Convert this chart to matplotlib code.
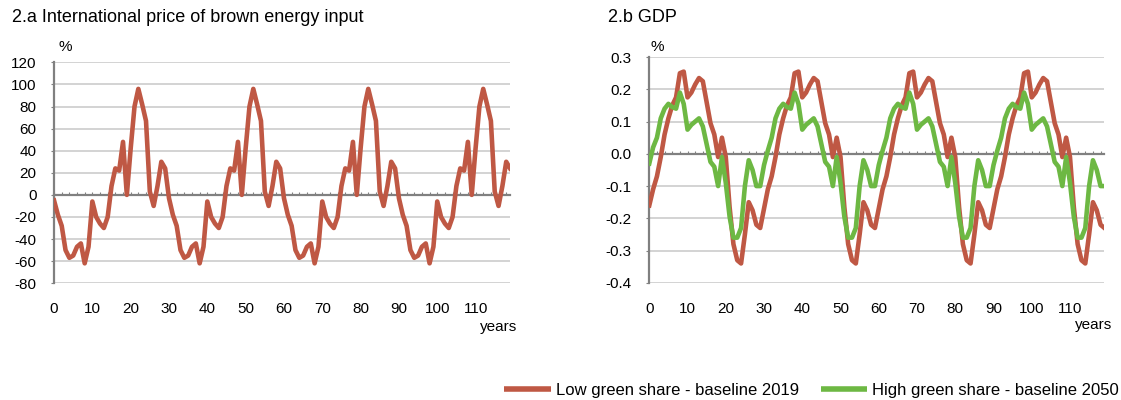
import matplotlib
matplotlib.use("Agg")
import matplotlib.pyplot as plt
from matplotlib.lines import Line2D
from matplotlib.ticker import MultipleLocator, FormatStrFormatter

plt.rcParams['font.family'] = ['Liberation Sans', 'DejaVu Sans']
plt.rcParams['axes.unicode_minus'] = False

# anos da simulacao
anos = list(range(120))

# 2.a preco internacional do insumo marrom (%)
preco = [
    -5, -18, -28, -50, -57, -55, -47, -44, -62, -47, -6, -20, -26, -30, -20,
    8, 24, 22, 48, 0, 42, 80, 96, 82, 67, 3, -10, 8, 30, 24,
    -3, -18, -28, -50, -57, -55, -47, -44, -62, -47, -6, -20, -26, -30, -20,
    8, 24, 22, 48, 0, 42, 80, 96, 82, 67, 3, -10, 8, 30, 24,
    -3, -18, -28, -50, -57, -55, -47, -44, -62, -47, -6, -20, -26, -30, -20,
    8, 24, 22, 48, 0, 42, 80, 96, 82, 67, 3, -10, 8, 30, 24,
    -3, -18, -28, -50, -57, -55, -47, -44, -62, -47, -6, -20, -26, -30, -20,
    8, 24, 22, 48, 0, 42, 80, 96, 82, 67, 3, -10, 8, 30, 24,
]

# 2.b PIB (%) - cenario com baixa participacao verde (baseline 2019)
pib_baixo = [
    -0.16, -0.11, -0.07, -0.01, 0.06, 0.11, 0.15, 0.175, 0.25, 0.255,
    0.175, 0.19, 0.215, 0.235, 0.225, 0.16, 0.095, 0.06, -0.01, 0.05,
    -0.01, -0.165, -0.28, -0.33, -0.34, -0.25, -0.15, -0.175, -0.22, -0.23,
    -0.17, -0.11, -0.07, -0.01, 0.06, 0.11, 0.15, 0.175, 0.25, 0.255,
    0.175, 0.19, 0.215, 0.235, 0.225, 0.16, 0.095, 0.06, -0.01, 0.05,
    -0.01, -0.165, -0.28, -0.33, -0.34, -0.25, -0.15, -0.175, -0.22, -0.23,
    -0.17, -0.11, -0.07, -0.01, 0.06, 0.11, 0.15, 0.175, 0.25, 0.255,
    0.175, 0.19, 0.215, 0.235, 0.225, 0.16, 0.095, 0.06, -0.01, 0.05,
    -0.01, -0.165, -0.28, -0.33, -0.34, -0.25, -0.15, -0.175, -0.22, -0.23,
    -0.17, -0.11, -0.07, -0.01, 0.06, 0.11, 0.15, 0.175, 0.25, 0.255,
    0.175, 0.19, 0.215, 0.235, 0.225, 0.16, 0.095, 0.06, -0.01, 0.05,
    -0.01, -0.165, -0.28, -0.33, -0.34, -0.25, -0.15, -0.175, -0.22, -0.23,
]

# 2.b PIB (%) - cenario com alta participacao verde (baseline 2050)
pib_alto = [
    -0.03, 0.02, 0.05, 0.11, 0.14, 0.155, 0.145, 0.14, 0.19, 0.155,
    0.075, 0.09, 0.10, 0.11, 0.085, 0.03, -0.025, -0.04, -0.10, -0.01,
    -0.09, -0.195, -0.26, -0.26, -0.23, -0.10, -0.02, -0.05, -0.10, -0.10,
    -0.035, 0.01, 0.05, 0.11, 0.14, 0.155, 0.145, 0.14, 0.19, 0.155,
    0.075, 0.09, 0.10, 0.11, 0.085, 0.03, -0.025, -0.04, -0.10, -0.01,
    -0.09, -0.195, -0.26, -0.26, -0.23, -0.10, -0.02, -0.05, -0.10, -0.10,
    -0.035, 0.01, 0.05, 0.11, 0.14, 0.155, 0.145, 0.14, 0.19, 0.155,
    0.075, 0.09, 0.10, 0.11, 0.085, 0.03, -0.025, -0.04, -0.10, -0.01,
    -0.09, -0.195, -0.26, -0.26, -0.23, -0.10, -0.02, -0.05, -0.10, -0.10,
    -0.035, 0.01, 0.05, 0.11, 0.14, 0.155, 0.145, 0.14, 0.19, 0.155,
    0.075, 0.09, 0.10, 0.11, 0.085, 0.03, -0.025, -0.04, -0.10, -0.01,
    -0.09, -0.195, -0.26, -0.26, -0.23, -0.10, -0.02, -0.05, -0.10, -0.10,
]

rotulos = ["Low green share - baseline 2019", "High green share - baseline 2050"]

vermelho = "#BF5844"
verde = "#6DB843"
cinza = "#808080"
fs = 11
lw = 3.3


def formatar_eixo(ax, ymin, ymax, passo):
    ax.set_xlim(0, 119)
    ax.set_ylim(ymin, ymax)
    ax.yaxis.set_major_locator(MultipleLocator(passo))
    ax.grid(True, 'major', 'y', color="#C8C8C8", linewidth=1.1)
    ax.set_axisbelow(True)
    for lado in ["right", "bottom"]:
        ax.spines[lado].set_visible(False)
    ax.spines["left"].set_color(cinza)
    ax.spines["left"].set_linewidth(1.6)
    # eixo horizontal passa pelo zero, com marcas a cada 2 anos
    ax.spines["top"].set_position(("data", 0))
    ax.spines["top"].set_color(cinza)
    ax.spines["top"].set_linewidth(1.6)
    ax.spines["top"].set_zorder(2.5)
    ax.xaxis.set_ticks_position("top")
    ax.xaxis.set_minor_locator(MultipleLocator(2))
    ax.tick_params(axis='x', which='minor', top=True, direction='out',
                   length=2.5, width=0.8, color=cinza)
    # rotulos dos anos ficam embaixo
    ax.set_xticks(range(0, 111, 10))
    ax.tick_params(axis='x', which='major', top=True, bottom=False,
                   labeltop=False, labelbottom=True, length=2.5, width=0.8,
                   color=cinza, direction='out', labelsize=fs, pad=11)
    ax.tick_params(axis='y', length=2.5, width=0.8, color=cinza,
                   labelsize=fs, pad=10)


fig = plt.figure(figsize=(11.21, 4.0), dpi=100)

# 2.a
ax1 = fig.add_axes([0.0482, 0.292, 0.4068, 0.552])
ax1.plot(anos, preco, color=vermelho, linewidth=lw, solid_joinstyle='round', zorder=3)
formatar_eixo(ax1, -80, 120, 20)

# 2.b
ax2 = fig.add_axes([0.5792, 0.293, 0.406, 0.5643])
ax2.plot(anos, pib_baixo, color=vermelho, linewidth=lw, solid_joinstyle='round', zorder=3)
ax2.plot(anos, pib_alto, color=verde, linewidth=lw, solid_joinstyle='round', zorder=4)
formatar_eixo(ax2, -0.4, 0.3, 0.1)
ax2.yaxis.set_major_formatter(FormatStrFormatter("%.1f"))

# titulos e unidades
fig.text(12 / 1121, 1 - 18 / 400, "2.a International price of brown energy input",
         fontsize=13, va='center', ha='left')
fig.text(608 / 1121, 1 - 18 / 400, "2.b GDP", fontsize=13, va='center', ha='left')
fig.text(65 / 1121, 1 - 47 / 400, "%", fontsize=fs, va='center', ha='center')
fig.text(657 / 1121, 1 - 47 / 400, "%", fontsize=fs, va='center', ha='center')
fig.text(517 / 1121, 1 - 327 / 400, "years", fontsize=fs, va='center', ha='right')
fig.text(1112 / 1121, 1 - 325 / 400, "years", fontsize=fs, va='center', ha='right')

# legenda com marcadores retangulares
marcas = [Line2D([], [], color=c, linewidth=4, solid_capstyle='butt') for c in [vermelho, verde]]
fig.legend(marcas, rotulos, ncol=2, loc='center right', bbox_to_anchor=(1119 / 1121, 1 - 390 / 400),
           frameon=False, fontsize=12, handlelength=2.8, handletextpad=0.3,
           columnspacing=1.3, borderaxespad=0.0, borderpad=0.0)

plt.savefig("out.png", dpi=100)
plt.close()
